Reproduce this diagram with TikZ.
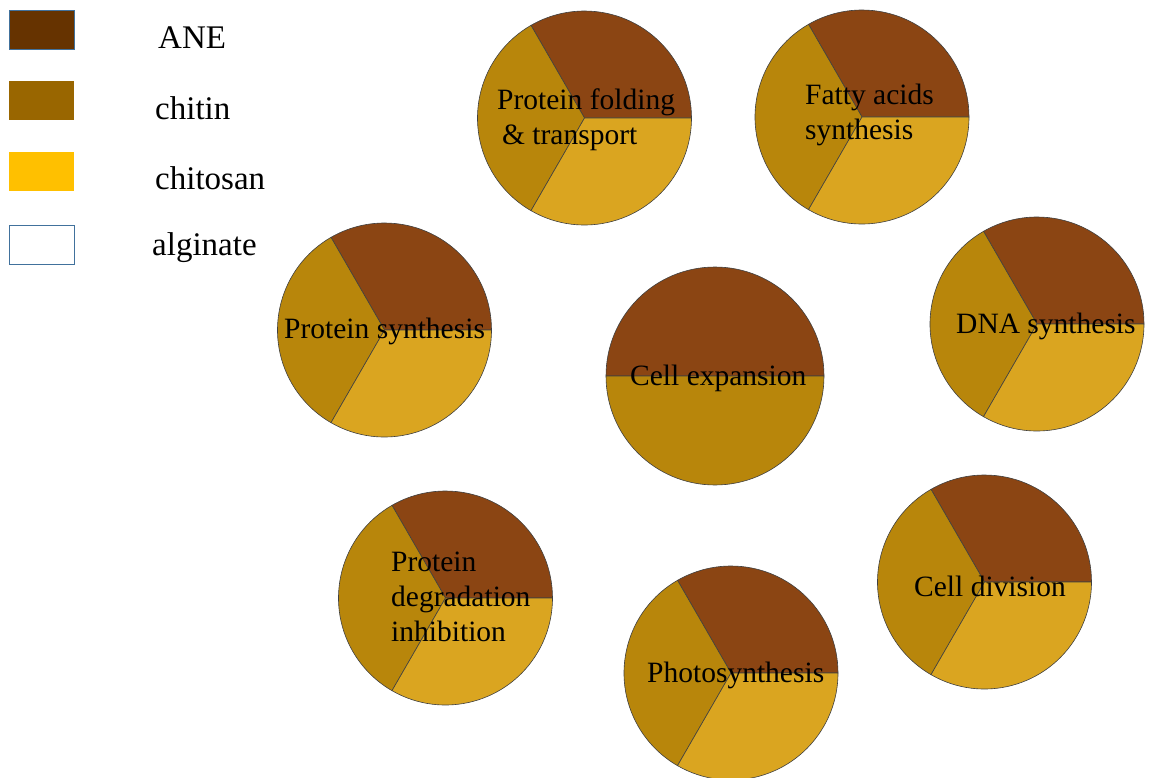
\documentclass[tikz,border=0pt]{standalone}
\usepackage{fontspec}
\setmainfont{Liberation Serif}
\definecolor{anekey}{HTML}{663300}
\definecolor{chitinkey}{HTML}{996600}
\definecolor{chitosankey}{HTML}{FFC000}
\definecolor{keyline}{HTML}{41719C}
\definecolor{anepie}{HTML}{8B4513}
\definecolor{chitinpie}{HTML}{B8860B}
\definecolor{chitosanpie}{HTML}{DAA520}
\tikzstyle{key}=[line width=1pt, minimum width=65pt, minimum height=39pt, inner sep=0pt]
\tikzstyle{key text}=[anchor=west, inner sep=0pt, font=\fontsize{33}{38}\selectfont]
\tikzstyle{slice}=[draw=black!75, line width=.6pt, line join=round]
\tikzstyle{pie text}=[anchor=west, align=left, inner sep=0pt, font=\fontsize{29.5}{35}\selectfont]

\begin{document}
\begin{tikzpicture}[x=1pt,y=-1pt]
    \useasboundingbox (0,0) rectangle (1149,778);

    % Legend
    \node[key, draw=keyline, fill=anekey] (kane) at (41.5,30) {};
    \node[key, fill=chitinkey] (kchitin) at (41.5,101) {};
    \node[key, fill=chitosankey] (kchitosan) at (41.5,171.5) {};
    \node[key, draw=keyline, fill=white] (kalginate) at (41.5,245) {};
    \node[key text] (tane) at (158,38) {ANE};
    \node[key text] (tchitin) at (155,108) {chitin};
    \node[key text] (tchitosan) at (155,178) {chitosan};
    \node[key text] (talginate) at (152,248) {alginate};

    % Pies
    \foreach \cx/\cy in {584.5/118, 862/117, 384.5/330, 1037/324, 445.5/598, 984.5/582, 731/673} {
        \draw[slice, fill=anepie] (\cx,\cy) -- ++(0:107) arc (0:-120:107) -- cycle;
        \draw[slice, fill=chitinpie] (\cx,\cy) -- ++(-120:107) arc (-120:-240:107) -- cycle;
        \draw[slice, fill=chitosanpie] (\cx,\cy) -- ++(-240:107) arc (-240:-360:107) -- cycle;
    }
    \draw[slice, fill=anepie] (606,376) arc (180:360:109) -- cycle;
    \draw[slice, fill=chitinpie] (606,376) arc (180:0:109) -- cycle;

    % Labels
    \node[pie text] (folding) at (497,120) {Protein folding\\ \,\& transport};
    \node[pie text] (fatty) at (805,115) {Fatty acids\\synthesis};
    \node[pie text] (psynth) at (284,331) {Protein synthesis};
    \node[pie text] (dna) at (956,326) {DNA synthesis};
    \node[pie text] (expansion) at (630,378) {Cell expansion};
    \node[pie text] (degradation) at (391,597) {Protein\\degradation\\inhibition};
    \node[pie text] (division) at (914,586) {Cell division};
    \node[pie text] (photo) at (647,675) {Photosynthesis};

\end{tikzpicture}
\end{document}
